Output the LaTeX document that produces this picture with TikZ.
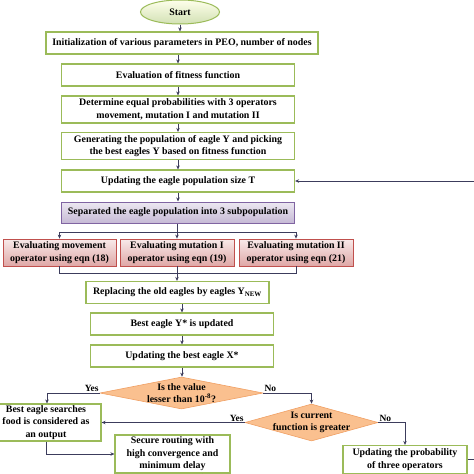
\documentclass[tikz,border=0pt]{standalone}
\usepackage{fontspec}
\setmainfont{Liberation Serif}
\usepackage{xcolor}
\usepackage{tikz}
\usetikzlibrary{shapes.geometric, arrows.meta, positioning, calc}
\definecolor{boxgreen}{RGB}{155,187,89}
\definecolor{linecolor}{RGB}{60,60,92}
\definecolor{splitcolor}{RGB}{128,100,162}
\definecolor{opcolor}{RGB}{192,80,77}
\definecolor{decisioncolor}{RGB}{250,192,143}
\definecolor{decisionborder}{RGB}{240,160,100}

\begin{document}
\begin{tikzpicture}[
    x=1pt, y=-1pt,
    font=\bfseries\fontsize{9.9}{12.5}\selectfont,
    stepbox/.style={draw=boxgreen, line width=1.2pt, fill=white, align=center, inner sep=0.5pt, minimum width=233pt, minimum height=22pt},
    startnode/.style={draw=boxgreen, line width=1pt, ellipse, top color=green!5!yellow!8, bottom color=boxgreen!45, minimum width=79pt, minimum height=24pt},
    splitbox/.style={draw=splitcolor, line width=1pt, top color=splitcolor!15, bottom color=splitcolor!45, align=center, minimum width=233pt, minimum height=21pt},
    opbox/.style={draw=opcolor, line width=0.8pt, top color=opcolor!12, bottom color=opcolor!50, align=center, inner sep=0.5pt, minimum width=114pt, minimum height=27pt},
    decision/.style={draw=decisionborder, line width=0.6pt, fill=decisioncolor, diamond, aspect=4, inner sep=-8pt, align=center},
    lbl/.style={font=\bfseries\fontsize{9.5}{10}\selectfont, inner sep=1pt},
    connector/.style={-{Stealth[length=4pt, width=3.5pt]}, line width=1pt, draw=linecolor},
    plain/.style={line width=1pt, draw=linecolor}
]
    \useasboundingbox (0,0) rectangle (474,474);
    \clip (0,0) rectangle (474,474);

    % Start
    \node[startnode] (start) at (180,12) {Start};

    % Main column
    \node[stepbox, minimum width=272pt] (init) at (182,43) {Initialization of various parameters in PEO, number of nodes};
    \node[stepbox] (fitness) at (178,75) {Evaluation of fitness function};
    \node[stepbox, minimum height=27pt] (equal) at (178,109.5) {Determine equal probabilities with 3 operators\\movement, mutation I and mutation II};
    \node[stepbox, minimum height=27pt] (gen) at (178,146) {Generating the population of eagle Y and picking\\the best eagles Y based on fitness function};
    \node[stepbox] (sizeT) at (178,181) {Updating the eagle population size T};
    \node[splitbox] (sep) at (178,212.5) {Separated the eagle population into 3 subpopulation};

    % Operators
    \node[opbox, minimum width=113pt] (opmove) at (59.5,252.5) {Evaluating movement\\operator using eqn (18)};
    \node[opbox] (opmut1) at (177,252.5) {Evaluating mutation I\\operator using eqn (19)};
    \node[opbox] (opmut2) at (296,252.5) {Evaluating mutation II\\operator using eqn (21)};

    % Update steps
    \node[stepbox, minimum width=183pt] (replace) at (177.5,292.5) {Replacing the old eagles by eagles Y\textsubscript{NEW}};
    \node[stepbox, minimum width=183pt] (besty) at (182,324) {Best eagle Y* is updated};
    \node[stepbox, minimum width=183pt] (bestx) at (182,356) {Updating the best eagle X*};

    % Decisions
    \node[decision, minimum width=163pt, minimum height=32pt] (value) at (181.5,393) {Is the value\\lesser than 10\textsuperscript{-8}?};
    \node[decision, minimum width=133pt, minimum height=37pt] (current) at (311.5,422.5) {Is current\\function is greater};

    % Outputs
    \node[stepbox, minimum width=110pt, minimum height=37pt] (search) at (46,422.5) {Best eagle searches\\food is considered as\\an output};
    \node[stepbox, minimum width=115pt, minimum height=38pt] (secure) at (172.5,454) {Secure routing with\\high convergence and\\minimum delay};
    \node[stepbox, minimum width=124pt, minimum height=28pt] (prob) at (405,459.5) {Updating the probability\\of three operators};

    % Free ends
    \coordinate (split) at (177,232);
    \coordinate (merge) at (177,273.5);
    \coordinate (loopside) at (490,0);
    \coordinate (endin) at (202,490);

    % Connectors
    \draw[connector] (start.south) -- (start.south |- init.north);
    \draw[connector] (init.south -| fitness) -- (fitness.north);
    \draw[connector] (fitness) -- (equal);
    \draw[connector] (equal) -- (gen);
    \draw[connector] (gen) -- (sizeT);
    \draw[connector] (sizeT) -- (sep);

    \draw[plain] (sep.south -| split) -- (split);
    \draw[plain] (split -| opmove) -- (split -| opmut2);
    \draw[connector] (split -| opmove) -- (opmove.north);
    \draw[connector] (split) -- (opmut1.north);
    \draw[connector] (split -| opmut2) -- (opmut2.north);

    \draw[plain] (opmove.south) -- (opmove.south |- merge) -- (opmut2.south |- merge) -- (opmut2.south);
    \draw[connector] (opmut1.south) -- (opmut1.south |- replace.north);

    \draw[connector] (replace.south -| besty) -- (besty.north);
    \draw[connector] (besty) -- (bestx);
    \draw[connector] (bestx.south) -- (bestx.south |- value.north);

    \draw[connector] (value.west) -| ([xshift=1pt]search.north);
    \draw[connector] (value.east) -| (current.north);
    \draw[connector] (current.west) -- (search.east);
    \draw[connector] (current.east) -| (prob.north);
    \draw[connector] (search.south) |- (secure.west);
    \draw[connector] (secure.south -| endin) -- (endin);
    \draw[connector] (prob.east) -- (prob.east -| loopside) |- (sizeT.east);

    % Labels
    \node[lbl, above left] at (value.west) {Yes};
    \node[lbl, above right] at (value.east) {No};
    \node[lbl, above left] at (current.west) {Yes};
    \node[lbl, above right] at (current.east) {No};
\end{tikzpicture}
\end{document}
